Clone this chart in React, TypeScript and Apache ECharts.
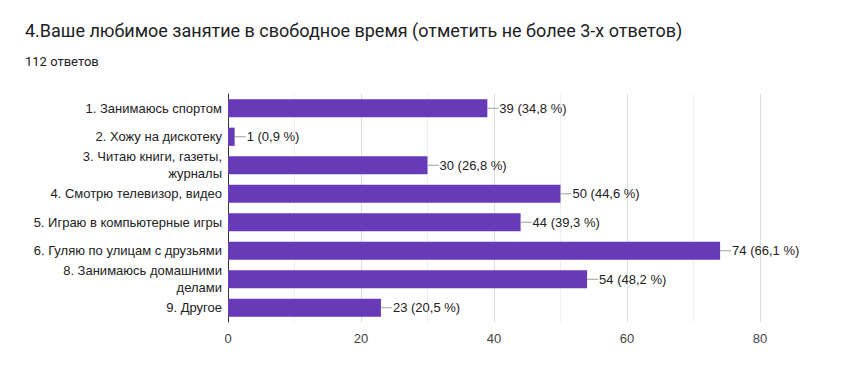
import React, { useEffect, useRef } from "react";
import * as echarts from "echarts";

const titleText = "4.Ваше любимое занятие в свободное время (отметить не более 3-х ответов)";
const subtitleText = "112 ответов";
const categories = [
  "1. Занимаюсь спортом",
  "2. Хожу на дискотеку",
  "3. Читаю книги, газеты,\nжурналы",
  "4. Смотрю телевизор, видео",
  "5. Играю в компьютерные игры",
  "6. Гуляю по улицам с друзьями",
  "8. Занимаюсь домашними\nделами",
  "9. Другое",
];
const counts = [39, 1, 30, 50, 44, 74, 54, 23];
const percents = ["34,8", "0,9", "26,8", "44,6", "39,3", "66,1", "48,2", "20,5"];
const xTicks = [0, 20, 40, 60, 80];

export default function App() {
  const ref = useRef<HTMLDivElement>(null);
  useEffect(() => {
    const chart = echarts.init(ref.current!, null, { renderer: "svg" });
    const chartFont = "Arial, 'Liberation Sans', sans-serif";
    chart.setOption({
      animation: false,
      backgroundColor: "#ffffff",
      textStyle: { fontFamily: chartFont },
      title: [
        {
          text: titleText,
          left: 20,
          top: 16,
          textStyle: { fontFamily: "Roboto, Arial, sans-serif", fontSize: 18, fontWeight: "normal", color: "#202124" },
        },
        {
          text: subtitleText,
          left: 20,
          top: 50,
          textStyle: { fontFamily: "Roboto, Arial, sans-serif", fontSize: 13, fontWeight: "normal", color: "#202124" },
        },
      ],
      grid: { left: 228, right: 95, top: 94, bottom: 63, containLabel: false },
      xAxis: {
        type: "value",
        min: xTicks[0],
        max: xTicks[xTicks.length - 1],
        interval: 20,
        axisLine: { show: false },
        axisTick: { show: false },
        axisLabel: { color: "#444", fontSize: 13, margin: 10, fontFamily: chartFont },
        splitLine: { show: true, lineStyle: { color: "#dcdcdc", width: 1 } },
        minorTick: { show: false, splitNumber: 2 },
        minorSplitLine: { show: true, lineStyle: { color: "#efefef", width: 1 } },
      },
      yAxis: {
        type: "category",
        data: categories,
        inverse: true,
        axisLine: { show: true, lineStyle: { color: "#333", width: 1 } },
        axisTick: { show: false },
        axisLabel: { color: "#222", fontSize: 13, margin: 6, lineHeight: 17, fontFamily: chartFont },
      },
      series: [
        {
          type: "bar",
          data: counts,
          barCategoryGap: "36%",
          itemStyle: { color: "#673ab7" },
          label: {
            show: true,
            position: "right",
            distance: 0,
            formatter: (p: any) => `{l|}{t|${counts[p.dataIndex]} (${percents[p.dataIndex]} %)}`,
            rich: {
              l: { width: 11, height: 1, backgroundColor: "#9e9e9e", verticalAlign: "middle" },
              t: { fontSize: 13, color: "#222", padding: [0, 0, 0, 1], verticalAlign: "middle", fontFamily: chartFont },
            },
          },
        },
      ],
    });
    return () => chart.dispose();
  }, []);
  return (
    <div
      ref={ref}
      style={{ position: "fixed", left: 0, top: 0, width: 855, height: 385, background: "#fff" }}
    />
  );
}
